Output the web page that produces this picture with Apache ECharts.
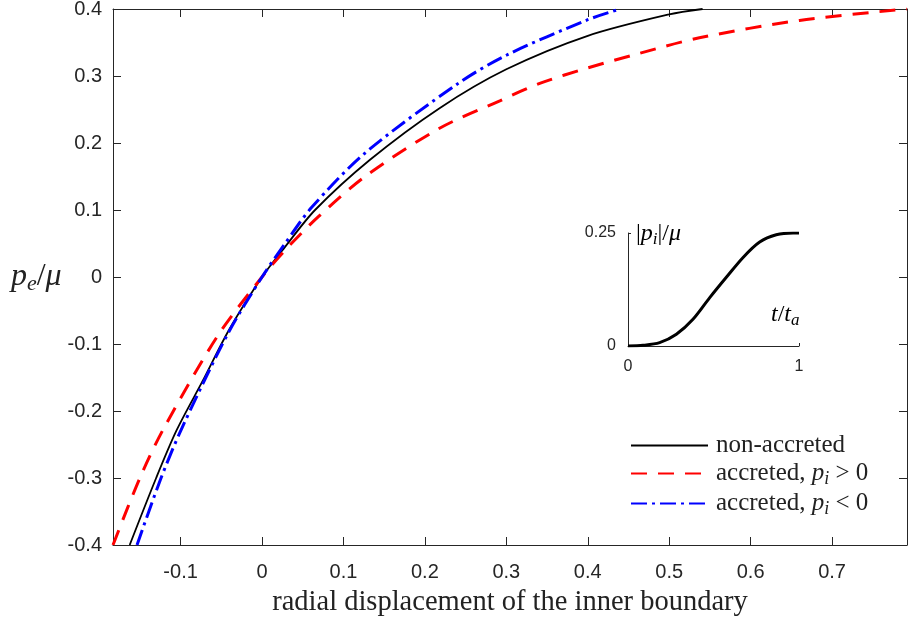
<!DOCTYPE html>
<html>
<head>
<meta charset="utf-8">
<script src="https://cdn.jsdelivr.net/npm/echarts@6/dist/echarts.min.js"></script>
<style>
  html, body { margin: 0; padding: 0; background: #fff; }
  #main { width: 908px; height: 626px; }
</style>
</head>
<body>
<div id="main"></div>
<script>
// x ticks of the main plot
const xTicks = [-0.1, 0, 0.1, 0.2, 0.3, 0.4, 0.5, 0.6, 0.7];

// curves: [displacement, pe/mu]
const nonAccreted = [[-0.1625, -0.4], [-0.130, -0.3], [-0.105, -0.229], [-0.0724, -0.154], [-0.0406, -0.079],
    [0, 0], [0.0283, 0.045], [0.0651, 0.100], [0.1326, 0.175], [0.218, 0.252], [0.3, 0.31], [0.4, 0.36],
    [0.5, 0.392], [0.541, 0.4]];
const accretedPos = [[-0.183, -0.4], [-0.150, -0.3], [-0.1207, -0.226], [-0.054, -0.087], [0, 0], [0.0283, 0.040],
    [0.0692, 0.090], [0.1265, 0.150], [0.218, 0.222], [0.292, 0.263], [0.341, 0.289], [0.4, 0.312], [0.464, 0.334],
    [0.537, 0.357], [0.66, 0.383], [0.792, 0.4]];
const accretedNeg = [[-0.1535, -0.4], [-0.124, -0.3], [-0.0978, -0.224], [-0.0417, -0.084], [0, 0], [0.0283, 0.050],
    [0.061, 0.104], [0.1265, 0.185], [0.241, 0.289], [0.3, 0.331], [0.4, 0.384], [0.44, 0.4]];

// inset: accretion pressure ramp
const rampT = [0, 0.088, 0.185, 0.283, 0.38, 0.478, 0.575, 0.673, 0.77, 0.867, 0.965, 1];
const rampP = [0, 0.0015, 0.0074, 0.026, 0.059, 0.107, 0.152, 0.196, 0.23, 0.246, 0.25, 0.25];

const legendText = {
    'non-accreted': '{n|non-accreted}',
    'accreted, pi > 0': '{n|accreted, }{i|p}{s|i}{n| > 0}',
    'accreted, pi < 0': '{n|accreted, }{i|p}{s|i}{n| < 0}'
};

const axisColor = '#262626';
const serif = 'Liberation Serif';
const sans = 'Liberation Sans';

function richSet(size) {
    return {
        n: {fontFamily: serif, fontSize: size, color: '#222'},
        i: {fontFamily: serif, fontStyle: 'italic', fontSize: size, color: '#222'},
        s: {fontFamily: serif, fontStyle: 'italic', fontSize: Math.round(size * 0.7), color: '#222', padding: [Math.round(size * 0.45), 0, 0, 0]}
    };
}

const chart = echarts.init(document.getElementById('main'));

const option = {
    animation: false,
    backgroundColor: '#fff',
    grid: [
        {left: 113, right: 1, top: 9, bottom: 81, outerBoundsMode: 'none'},
        {left: 628, top: 233, width: 171, height: 113, outerBoundsMode: 'none'}
    ],
    legend: {
        orient: 'vertical',
        left: 630,
        top: 433,
        padding: 0,
        itemWidth: 77,
        itemHeight: 14,
        itemGap: 3,
        itemStyle: {opacity: 0},
        data: ['non-accreted', 'accreted, pi > 0', 'accreted, pi < 0'],
        formatter: function (name) { return legendText[name]; },
        textStyle: {lineHeight: 24, padding: [0, 0, 0, 3], rich: richSet(25)}
    },
    xAxis: [
        {
            gridIndex: 0, type: 'value', position: 'bottom', min: -0.183, max: 0.792,
            name: 'radial displacement of the inner boundary', nameLocation: 'middle', nameGap: 43,
            nameTextStyle: {fontFamily: serif, fontSize: 28.5, color: '#222'},
            axisLine: {show: true, onZero: false, lineStyle: {color: axisColor}},
            axisTick: {show: true, inside: true, length: 8, customValues: xTicks, lineStyle: {color: axisColor}},
            axisLabel: {customValues: xTicks, fontFamily: sans, fontSize: 20, color: axisColor, margin: 17,
                formatter: function (v) { return String(Math.round(v * 10) / 10); }},
            splitLine: {show: false}
        },
        {
            gridIndex: 0, type: 'value', position: 'top', min: -0.183, max: 0.792,
            axisLine: {show: true, onZero: false, lineStyle: {color: axisColor}},
            axisTick: {show: true, inside: true, length: 8, customValues: xTicks, lineStyle: {color: axisColor}},
            axisLabel: {show: false},
            splitLine: {show: false}
        },
        {
            gridIndex: 1, type: 'value', min: 0, max: 1, interval: 1,
            axisLine: {show: true, onZero: false, lineStyle: {color: axisColor}},
            axisTick: {show: true, inside: true, length: 3, lineStyle: {color: axisColor}},
            axisLabel: {fontFamily: sans, fontSize: 16, color: axisColor, margin: 13},
            splitLine: {show: false}
        }
    ],
    yAxis: [
        {
            gridIndex: 0, type: 'value', position: 'left', min: -0.4, max: 0.4, interval: 0.1,
            name: '{i|p}{s|e}{n|/}{i|μ}', nameLocation: 'middle', nameRotate: 0, nameGap: 34,
            nameTextStyle: {rich: richSet(32)},
            axisLine: {show: true, onZero: false, lineStyle: {color: axisColor}},
            axisTick: {show: true, inside: true, length: 8, lineStyle: {color: axisColor}},
            axisLabel: {fontFamily: sans, fontSize: 20, color: axisColor, margin: 11,
                formatter: function (v) { return String(Math.round(v * 10) / 10); }},
            splitLine: {show: false}
        },
        {
            gridIndex: 0, type: 'value', position: 'right', min: -0.4, max: 0.4, interval: 0.1,
            axisLine: {show: true, onZero: false, lineStyle: {color: axisColor}},
            axisTick: {show: true, inside: true, length: 8, lineStyle: {color: axisColor}},
            axisLabel: {show: false},
            splitLine: {show: false}
        },
        {
            gridIndex: 1, type: 'value', min: 0, max: 0.25, interval: 0.25,
            axisLine: {show: true, onZero: false, lineStyle: {color: axisColor}},
            axisTick: {show: true, inside: true, length: 3, lineStyle: {color: axisColor}},
            axisLabel: {fontFamily: sans, fontSize: 16, color: axisColor, margin: 12},
            splitLine: {show: false}
        }
    ],
    graphic: [
        {type: 'text', left: 636, top: 222, style: {text: '{n||}{i|p}{s|i}{n||/}{i|μ}', rich: richSet(24)}},
        {type: 'text', left: 771, top: 303, style: {text: '{i|t}{n|/}{i|t}{s|a}', rich: richSet(24)}}
    ],
    series: [
        {
            name: 'non-accreted', type: 'line', xAxisIndex: 0, yAxisIndex: 0, data: nonAccreted,
            smooth: 0.3, showSymbol: false, symbol: 'none',
            lineStyle: {color: '#000', width: 1.8}, itemStyle: {color: '#000'}
        },
        {
            name: 'accreted, pi > 0', type: 'line', xAxisIndex: 0, yAxisIndex: 0, data: accretedPos,
            smooth: 0.3, showSymbol: false, symbol: 'none',
            lineStyle: {color: '#ff0000', width: 3, type: [16, 11]}, itemStyle: {color: '#ff0000'}
        },
        {
            name: 'accreted, pi < 0', type: 'line', xAxisIndex: 0, yAxisIndex: 0, data: accretedNeg,
            smooth: 0.3, showSymbol: false, symbol: 'none',
            lineStyle: {color: '#0000ff', width: 3, type: [16, 5, 3, 5]}, itemStyle: {color: '#0000ff'}
        },
        {
            name: 'ramp', type: 'line', xAxisIndex: 2, yAxisIndex: 2,
            data: rampT.map(function (t, i) { return [t, rampP[i]]; }),
            smooth: 0.3, showSymbol: false, symbol: 'none',
            lineStyle: {color: '#000', width: 3}
        }
    ]
};

chart.setOption(option);
</script>
</body>
</html>
